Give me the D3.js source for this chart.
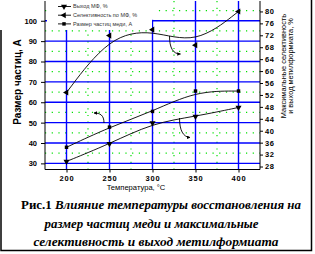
<!DOCTYPE html>
<html><head><meta charset="utf-8">
<script src="https://cdn.jsdelivr.net/npm/d3@7"></script>
<style>body{margin:0;background:#fff}svg{display:block}</style>
</head><body>
<svg id="c" width="315" height="254"></svg>
<script>
const temps = [200, 250, 300, 350, 400];
const yieldMF = [29.7, 35.6, 42.6, 44.8, 47.8];          // right axis, %
const selectivityMF = [52.8, 71.9, 73.9, 68.7, 80.0];    // right axis, %
const particleSize = [37.9, 47.8, 55.5, 65.5, 65.5];      // left axis, A
const xTicks = [200, 250, 300, 350, 400];
const xMinor = [225, 275, 325, 375];
const leftTicks = [30, 40, 50, 60, 70, 80, 90, 100];
const leftMinor = [35, 45, 55, 65, 75, 85, 95, 105];
const rightTicks = [28, 32, 36, 40, 44, 48, 52, 56, 60, 64, 68, 72, 76, 80];
const legendLabels = ["Выход МФ, %", "Селективность по МФ, %", "Размер частиц меди, А"];
const leftTitle = "Размер частиц, А";
const rightTitle = ["Максимальные селективность", "и выход метилформиата, %"];
const xTitle = "Температура, °С";
const captionLines = [
  ["Рис.1 ", "Влияние температуры восстановления на"],
  ["", "размер частиц меди и максимальные"],
  ["", "селективность и выход метилформиата"]
];

const svg = d3.select("#c");
const L = 45, R = 260, T = 1, B = 169.5;
const x = d3.scaleLinear().domain([175, 425]).range([L, R]);
const yL = d3.scaleLinear().domain([27, 109.7]).range([B, T]);
const yR = d3.scaleLinear().domain([27, 83.5]).range([B, T]);

svg.append("rect").attr("width", 315).attr("height", 254).attr("fill", "#fff");

// grid
const g = svg.append("g");
g.selectAll(".mx").data(xMinor).join("line")
  .attr("x1", d => x(d)).attr("x2", d => x(d)).attr("y1", T).attr("y2", B)
  .attr("stroke", "#00e000").attr("stroke-width", 1.2).attr("stroke-dasharray", "1.2,5.5");
g.selectAll(".my").data(leftMinor).join("line")
  .attr("x1", L).attr("x2", R).attr("y1", d => yL(d)).attr("y2", d => yL(d))
  .attr("stroke", "#00e000").attr("stroke-width", 1.2).attr("stroke-dasharray", "1.2,5.5");
g.selectAll(".Mx").data(xTicks).join("line")
  .attr("x1", d => x(d)).attr("x2", d => x(d)).attr("y1", T).attr("y2", B)
  .attr("stroke", "#0000ff").attr("stroke-width", 1.4);
g.selectAll(".My").data(leftTicks).join("line")
  .attr("x1", L).attr("x2", R).attr("y1", d => yL(d)).attr("y2", d => yL(d))
  .attr("stroke", "#0000ff").attr("stroke-width", 1.4);

// legend background
svg.append("rect").attr("x", L + 2).attr("y", 0).attr("width", 105).attr("height", 30).attr("fill", "#fff");
svg.append("rect").attr("x", L + 2).attr("y", 0).attr("width", 108).attr("height", 19.8).attr("fill", "#fff");

// axes
const fontAx = "'Liberation Sans', Arial, sans-serif";
const xAxis = svg.append("g").attr("transform", `translate(0,${B})`)
  .call(d3.axisBottom(x).tickValues(xTicks).tickSize(3).tickPadding(3).tickFormat(d3.format("d")));
const yAxisL = svg.append("g").attr("transform", `translate(${L},0)`)
  .call(d3.axisLeft(yL).tickValues(leftTicks).tickSize(4).tickPadding(4).tickFormat(d3.format("d")));
const yAxisR = svg.append("g").attr("transform", `translate(${R},0)`)
  .call(d3.axisRight(yR).tickValues(rightTicks).tickSize(3).tickPadding(2).tickFormat(d3.format("d")));
[xAxis, yAxisL, yAxisR].forEach(a => {
  a.select(".domain").attr("stroke", "#000").attr("stroke-width", 1);
  a.selectAll(".tick line").attr("stroke", "#000");
  a.selectAll("text").attr("font-family", fontAx).attr("font-size", 7.5)
    .attr("font-weight", "bold").attr("fill", "#000");
});
xAxis.selectAll("text").attr("letter-spacing", 0.8);
yAxisR.selectAll("text").attr("letter-spacing", 0.6);
// redraw domains as straight lines (no end caps)
xAxis.select(".domain").attr("d", `M${L},0H${R}`);
yAxisL.select(".domain").attr("d", `M0,${T}V${B}`);
yAxisR.select(".domain").attr("d", `M0,${T}V${B}`);

// series
const line = (ys, yScale) => d3.line().x((d, i) => x(temps[i])).y(d => yScale(d)).curve(d3.curveBasis)(ys);
svg.append("path").attr("d", line(yieldMF, yR)).attr("fill", "none").attr("stroke", "#000").attr("stroke-width", 0.9);
svg.append("path").attr("d", line(selectivityMF, yR)).attr("fill", "none").attr("stroke", "#000").attr("stroke-width", 0.9);
svg.append("path").attr("d", line(particleSize, yL)).attr("fill", "none").attr("stroke", "#000").attr("stroke-width", 0.9);

const tri = d3.symbol().type(d3.symbolTriangle).size(16);
const sq = d3.symbol().type(d3.symbolSquare).size(12);
function markYield(sel) { sel.attr("d", tri).attr("fill", "#000"); }
svg.selectAll(".my1").data(yieldMF).join("path")
  .attr("transform", (d, i) => `translate(${x(temps[i])},${yR(d)}) rotate(180)`)
  .call(markYield);
svg.selectAll(".ms1").data(selectivityMF).join("path")
  .attr("transform", (d, i) => `translate(${x(temps[i])},${yR(d)}) rotate(-90)`)
  .attr("d", tri).attr("fill", "#000");
svg.selectAll(".mp1").data(particleSize).join("path")
  .attr("transform", (d, i) => `translate(${x(temps[i])},${yL(d)})`)
  .attr("d", sq).attr("fill", "#000");

// annotation arrows
const defs = svg.append("defs");
defs.append("marker").attr("id", "ah").attr("viewBox", "0 0 10 10").attr("refX", 9).attr("refY", 5)
  .attr("markerWidth", 4).attr("markerHeight", 4).attr("orient", "auto")
  .append("path").attr("d", "M0,0L10,5L0,10Z").attr("fill", "#000");
const arrows = [
  "M169.5,36 C169.5,48 173,54 180.5,54",
  "M104,123 C104,115 100,113 94,113",
  "M179.5,118 C179.5,130 183,137 190,137.5"
];
svg.selectAll(".arr").data(arrows).join("path").attr("d", d => d)
  .attr("fill", "none").attr("stroke", "#000").attr("stroke-width", 0.9).attr("marker-end", "url(#ah)");

// legend
const lg = svg.append("g");
legendLabels.forEach((t, i) => {
  const yy = 6.5 + i * 8.7;
  lg.append("line").attr("x1", 58).attr("x2", 71).attr("y1", yy).attr("y2", yy).attr("stroke", "#000").attr("stroke-width", 0.9);
  const m = lg.append("path").attr("fill", "#000");
  if (i === 0) m.attr("d", tri).attr("transform", `translate(64,${yy}) rotate(180)`);
  else if (i === 1) m.attr("d", tri).attr("transform", `translate(64,${yy}) rotate(-90)`);
  else m.attr("d", sq).attr("transform", `translate(64,${yy})`);
  lg.append("text").attr("x", 73).attr("y", yy).attr("dy", "0.35em").text(t)
    .attr("font-family", fontAx).attr("font-size", 5.5).attr("fill", "#333");
});

// titles
svg.append("text").text(leftTitle)
  .attr("transform", "translate(17.5,82) rotate(-90)").attr("text-anchor", "middle").attr("dy", "0.35em")
  .attr("font-family", fontAx).attr("font-size", 10).attr("font-weight", "bold");
rightTitle.forEach((t, i) => {
  svg.append("text").text(t)
    .attr("transform", `translate(${283.5 + i * 7.2},66) rotate(-90)`).attr("text-anchor", "middle").attr("dy", "0.35em")
    .attr("font-family", fontAx).attr("font-size", 7.4);
});
svg.append("text").text(xTitle).attr("x", 136).attr("y", 190).attr("text-anchor", "middle")
  .attr("font-family", fontAx).attr("font-size", 7.6);

// caption
const capLens = [280, 214, 245];
const capCx = [161, 151.5, 156];
const capY = [209, 227.5, 246];
captionLines.forEach((ln, i) => {
  const t = svg.append("text").attr("x", capCx[i]).attr("y", capY[i]).attr("text-anchor", "middle")
    .attr("font-family", "'Liberation Serif', 'Times New Roman', serif").attr("font-size", 12.5)
    .attr("font-weight", "bold").attr("textLength", capLens[i]).attr("lengthAdjust", "spacingAndGlyphs");
  if (ln[0]) t.append("tspan").attr("font-style", "normal").text(ln[0]);
  t.append("tspan").attr("font-style", "italic").text(ln[1]);
});

// outer frame
svg.append("path").attr("d", "M1,30V250.5H311.5V0").attr("fill", "none").attr("stroke", "#000").attr("stroke-width", 1.5);
</script>
</body></html>
